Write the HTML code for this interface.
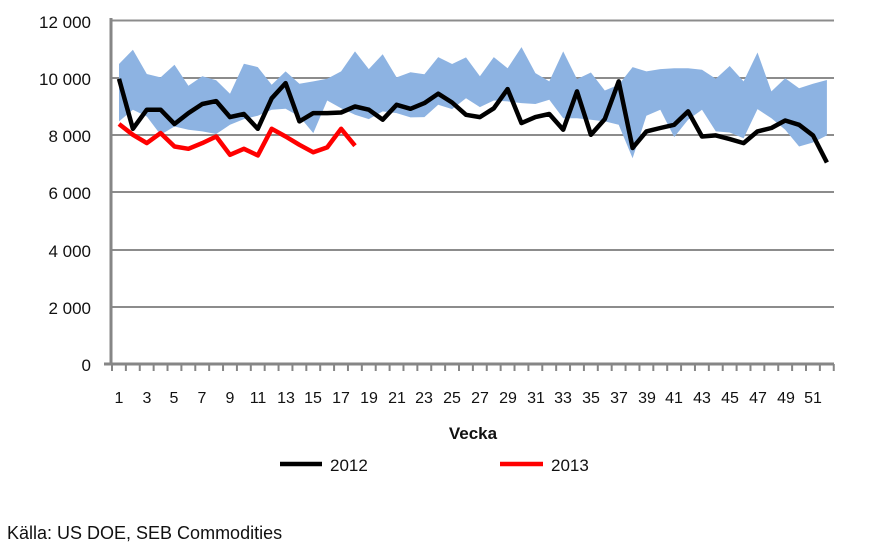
<!DOCTYPE html>
<html><head><meta charset="utf-8"><style>
body{margin:0;background:#fff;width:887px;height:556px;overflow:hidden}
svg{display:block;font-family:"Liberation Sans",Arial,sans-serif}
</style></head><body>
<svg id="s" width="887" height="556" viewBox="0 0 887 556">
<g stroke="#8c8c8c" stroke-width="2">
<line x1="111" y1="20.5" x2="834" y2="20.5"/>
<line x1="111" y1="78" x2="834" y2="78"/>
<line x1="111" y1="135" x2="834" y2="135"/>
<line x1="111" y1="192" x2="834" y2="192"/>
<line x1="111" y1="250" x2="834" y2="250"/>
<line x1="111" y1="307" x2="834" y2="307"/>
</g>
<polygon id="band" fill="#8db3e2"/>
<g fill="none" stroke-linejoin="round" stroke-width="4.5">
<polyline id="red" stroke="#ff0000"/>
<polyline id="blk" stroke="#000"/>
</g>
<g stroke="#868686" stroke-width="3">
<line x1="111" y1="18" x2="111" y2="365"/>
<line x1="104" y1="364" x2="834" y2="364"/>
</g>
<g id="ticks" stroke="#868686" stroke-width="2"></g>
<g font-size="17" fill="#111" text-anchor="end">
<text x="91" y="28">12 000</text>
<text x="91" y="85">10 000</text>
<text x="91" y="142">8 000</text>
<text x="91" y="199">6 000</text>
<text x="91" y="257">4 000</text>
<text x="91" y="314">2 000</text>
<text x="91" y="371">0</text>
</g>
<g font-size="16" fill="#111" text-anchor="middle">
<text x="119" y="403">1</text><text x="147" y="403">3</text><text x="174" y="403">5</text><text x="202" y="403">7</text><text x="230" y="403">9</text>
<text x="258" y="403">11</text><text x="286" y="403">13</text><text x="313" y="403">15</text><text x="341" y="403">17</text><text x="369" y="403">19</text>
<text x="397" y="403">21</text><text x="424" y="403">23</text><text x="452" y="403">25</text><text x="480" y="403">27</text><text x="508" y="403">29</text>
<text x="536" y="403">31</text><text x="563" y="403">33</text><text x="591" y="403">35</text><text x="619" y="403">37</text><text x="647" y="403">39</text>
<text x="674" y="403">41</text><text x="702" y="403">43</text><text x="730" y="403">45</text><text x="758" y="403">47</text><text x="786" y="403">49</text>
<text x="813" y="403">51</text>
</g>
<text x="473" y="439" font-size="17" font-weight="bold" text-anchor="middle" fill="#111">Vecka</text>
<line x1="280" y1="464" x2="322" y2="464" stroke="#000" stroke-width="4.5"/>
<text x="330" y="471" font-size="17" fill="#111">2012</text>
<line x1="500" y1="464" x2="543" y2="464" stroke="#f00" stroke-width="4.5"/>
<text x="551" y="471" font-size="17" fill="#111">2013</text>
<text x="7" y="539" font-size="18" fill="#111">Källa: US DOE, SEB Commodities</text>
</svg>
<script>
var blk=[9980,8230,8900,8900,8400,8780,9100,9200,8640,8750,8230,9300,9830,8490,8780,8780,8800,9010,8900,8550,9070,8930,9130,9460,9150,8720,8640,8950,9620,8430,8640,8750,8200,9540,8020,8570,9890,7560,8140,8260,8370,8840,7960,8000,7870,7730,8140,8260,8520,8370,8000,7050];
var red=[8400,8020,7730,8080,7610,7530,7730,7960,7320,7530,7300,8230,7960,7670,7410,7580,8230,7640];
var up=[10500,11000,10150,10030,10470,9740,10070,9930,9460,10510,10390,9770,10240,9810,9890,9980,10240,10940,10320,10840,10030,10210,10140,10740,10500,10730,10070,10740,10350,11090,10180,9890,10940,9970,10200,9570,9770,10390,10240,10320,10350,10350,10300,9980,10430,9890,10900,9540,10000,9650,9810,9940];
var lo=[8490,8900,8660,8020,8310,8200,8140,8050,8370,8570,8690,8900,8930,8660,8080,9220,8950,8720,8570,8840,8780,8630,8640,9070,8920,9300,8990,9220,9190,9130,9100,9250,8600,8600,8550,8490,8370,7200,8690,8900,7940,8550,8900,8140,8100,7900,8920,8600,8200,7610,7750,8000];
function X(i){return 119+i*13.88}function Y(v){return 364-v*57.15/2000}
function pts(a){return a.map(function(v,i){return X(i).toFixed(1)+","+Y(v).toFixed(1)}).join(" ")}
document.getElementById("blk").setAttribute("points",pts(blk));
document.getElementById("red").setAttribute("points",pts(red));
var b=up.map(function(v,i){return X(i).toFixed(1)+","+Y(v).toFixed(1)});
for(var i=lo.length-1;i>=0;i--)b.push(X(i).toFixed(1)+","+Y(lo[i]).toFixed(1));
document.getElementById("band").setAttribute("points",b.join(" "));
var t="";for(var k=0;k<=52;k++){var x=112+k*13.88;t+='<line x1="'+x+'" y1="364" x2="'+x+'" y2="371"/>';}
document.getElementById("ticks").innerHTML=t;
</script>
</body></html>
